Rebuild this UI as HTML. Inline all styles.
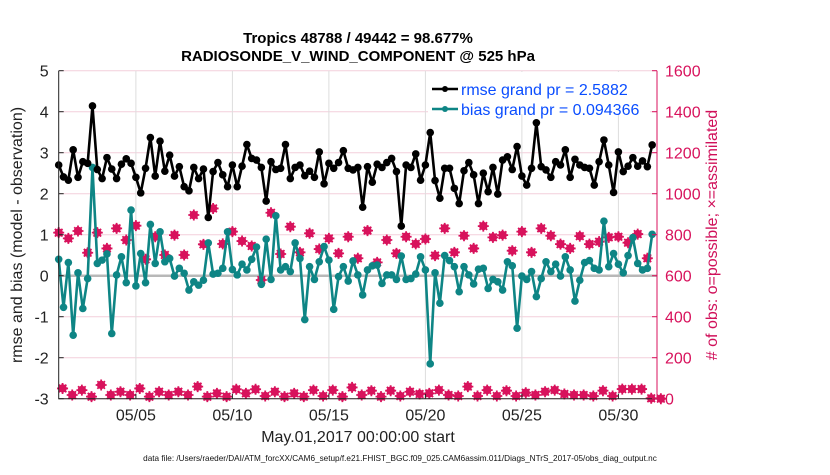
<!DOCTYPE html>
<html><head><meta charset="utf-8"><style>
body{margin:0;background:#fff;width:830px;height:470px;overflow:hidden}
svg{font-family:"Liberation Sans",Arial,sans-serif}
</style></head><body>
<svg id="chart" width="830" height="470">
<text x="358" y="43" text-anchor="middle" font-size="15" font-weight="bold">Tropics 48788 / 49442 = 98.677%</text>
<text x="358" y="61" text-anchor="middle" font-size="15" font-weight="bold">RADIOSONDE_V_WIND_COMPONENT @ 525 hPa</text>
<g id="grid"></g>
<g id="marks"></g>
<g id="axes"></g>
<g id="legend">
<rect x="428" y="72" width="222" height="42" fill="#fff"/>
<line x1="432" y1="89" x2="458" y2="89" stroke="#000" stroke-width="2.5"/>
<circle cx="445" cy="89" r="3" fill="#000"/>
<text x="461" y="95" font-size="16" fill="#0a4dff">rmse grand pr = 2.5882</text>
<line x1="432" y1="109" x2="458" y2="109" stroke="#0e8585" stroke-width="2.5"/>
<circle cx="445" cy="109" r="3" fill="#0e8585"/>
<text x="461" y="115" font-size="16" fill="#0a4dff">bias grand pr = 0.094366</text>
</g>
<text x="358" y="442" text-anchor="middle" font-size="16" fill="#222">May.01,2017 00:00:00 start</text>
<text x="400" y="461" text-anchor="middle" font-size="8.2" fill="#111">data file: /Users/raeder/DAI/ATM_forcXX/CAM6_setup/f.e21.FHIST_BGC.f09_025.CAM6assim.011/Diags_NTrS_2017-05/obs_diag_output.nc</text>
<text transform="translate(22,235) rotate(-90)" text-anchor="middle" font-size="16" fill="#222">rmse and bias (model - observation)</text>
<text transform="translate(717,235) rotate(-90)" text-anchor="middle" font-size="16" fill="#d0105a"># of obs: o=possible; ×=assimilated</text>
</svg>
<script>
const rmse=[2.70,2.41,2.33,3.07,2.40,2.78,2.74,4.14,2.59,2.37,2.88,2.60,2.37,2.72,2.85,2.74,2.40,2.02,2.62,3.37,2.43,3.28,2.55,2.94,2.43,2.66,2.17,2.07,2.64,2.37,2.60,1.42,2.54,2.76,2.46,2.17,2.70,2.17,2.67,3.20,2.86,2.82,2.64,
1.82,2.78,2.59,2.62,3.20,2.37,2.64,2.70,2.44,2.55,2.40,3.02,2.24,2.74,2.62,2.76,3.05,2.62,2.58,2.64,1.67,2.66,2.28,2.72,2.64,2.76,2.86,2.54,1.21,2.70,2.64,2.97,2.33,2.70,3.49,2.32,1.89,2.62,2.62,2.13,1.76,
2.56,2.76,2.46,1.76,2.50,2.05,2.64,1.99,2.82,2.90,2.59,3.15,2.43,2.21,2.62,3.73,2.66,2.58,2.40,2.78,2.70,3.07,2.40,2.84,2.70,2.64,2.62,2.21,2.78,3.31,2.70,2.03,3.02,2.54,2.67,2.88,2.67,2.80,2.66,3.19];
const bias=[0.40,-0.77,0.32,-1.45,0.07,-0.80,-0.07,2.64,0.30,0.38,0.53,-1.41,0.02,0.46,-0.17,1.60,-0.25,0.54,-0.17,1.25,0.30,1.07,0.34,0.42,-0.01,0.18,0.06,-0.35,-0.15,-0.23,-0.11,0.80,0.04,0.06,0.18,1.07,0.15,0.02,0.28,0.14,0.40,0.70,-0.21,
0.89,-0.09,1.46,0.14,0.22,0.10,0.80,0.42,-1.07,0.22,-0.09,0.34,0.71,0.38,-0.82,-0.02,0.22,-0.13,0.36,0.02,-0.47,0.14,0.24,0.26,-0.19,0.02,0.02,-0.09,0.48,-0.09,-0.07,0.04,0.46,0.14,-2.15,0.07,-0.67,0.49,0.37,0.22,-0.39,
0.22,0.02,-0.20,0.16,0.18,-0.31,-0.09,-0.15,-0.35,0.34,0.24,-1.28,-0.01,-0.09,0.10,-0.51,-0.07,0.34,0.10,0.28,-0.01,0.46,0.14,-0.62,-0.11,0.32,0.37,0.18,0.14,1.33,0.22,0.54,0.28,0.07,0.49,0.93,0.30,0.14,0.18,1.01];
const nPossible=[810,782,818,712,810,733,831,774,844,680,790,701,798,701,896,753,928,755,815,769,745,579,
907,706,839,714,807,730,782,709,790,685,820,665,774,709,790,755,779,698,831,714,
795,733,842,787,798,722,815,714,831,795,754,733,793,754,766,787,790,761,803,685];
const nLow=[50,18,42,10,67,18,34,18,50,10,34,18,34,18,59,10,26,10,46,26,46,
13,34,10,26,10,42,13,42,10,55,18,39,10,39,13,34,23,26,42,18,13,
59,13,42,13,39,13,29,18,34,42,23,18,18,13,39,13,47,47,47,2,0];
const yTicksL=[-3,-2,-1,0,1,2,3,4,5];
const yTicksR=[0,200,400,600,800,1000,1200,1400,1600];
const xTickDays=[4,9,14,19,24,29];
const xTickLabels=["05/05","05/10","05/15","05/20","05/25","05/30"];

const X0=58.7,X1=657,Y0=398.7,Y1=70.7;
const xs=t=>X0+t*(X1-X0)/31;
const yL=v=>Y0-(v+3)*(Y0-Y1)/8;
const yR=v=>Y0-v*(Y0-Y1)/1600;
const NS="http://www.w3.org/2000/svg";
function mk(tag,attrs,parent){const e=document.createElementNS(NS,tag);for(const k in attrs)e.setAttribute(k,attrs[k]);parent.appendChild(e);return e;}
const grid=document.getElementById('grid'),marks=document.getElementById('marks'),axes=document.getElementById('axes');
const PINK="#d8125c";

yTicksL.forEach(v=>{const l=mk('line',{x1:X0,x2:X1,y1:yL(v),y2:yL(v),stroke:'#f3cfdc','stroke-width':1},grid);

});
xTickDays.forEach(d=>{const l=mk('line',{x1:xs(d),x2:xs(d),y1:Y1,y2:Y0,stroke:'#dddddd','stroke-width':1},grid);

});
const z=mk('line',{x1:X0,x2:X1,y1:yL(0),y2:yL(0),stroke:'#b8b8b8','stroke-width':2.5},grid);



function star(cx,cy,g){
  const p=mk('path',{d:`M${cx-5.5},${cy}h11M${cx},${cy-5.5}v11M${cx-3.8},${cy-3.8}l7.6,7.6M${cx-3.8},${cy+3.8}l7.6,-7.6`,stroke:PINK,'stroke-width':1.8},g);
  
  
}
nPossible.forEach((v,i)=>{const cx=xs(i*0.5),cy=yR(v);
  const c=mk('circle',{cx:cx,cy:cy,r:4.2,fill:PINK},marks);
  
  
  star(cx,cy,marks);});
nLow.forEach((v,i)=>{const cx=xs(i*0.5+0.2),cy=yR(v);
  const c=mk('circle',{cx:cx,cy:cy,r:4.2,fill:PINK},marks);
  
  
  star(cx,cy,marks);});

function series(arr,color,name){
  const pts=arr.map((v,i)=>[xs(i*0.25),yL(v)]);
  const pl=mk('polyline',{points:pts.map(p=>p.join(',')).join(' '),fill:'none',stroke:color,'stroke-width':2.6,'stroke-linejoin':'round'},marks);
  
  
  pts.forEach(p=>{const c=mk('circle',{cx:p[0],cy:p[1],r:3.8,fill:color},marks);
    
    });
}
series(bias,'#0e8585','bias');
series(rmse,'#000','rmse');

const fr=mk('path',{d:`M${X0},${Y1}V${Y0}H${X1}`,fill:'none',stroke:'#222','stroke-width':1},axes);


const ra=mk('line',{x1:X1,x2:X1,y1:Y1,y2:Y0,stroke:PINK,'stroke-width':1},axes);


yTicksL.forEach(v=>{const y=yL(v);
  mk('line',{x1:X0,x2:X0+5,y1:y,y2:y,stroke:'#222'},axes);
  const t=mk('text',{x:X0-10,y:y+6,'text-anchor':'end','font-size':16,fill:'#222'},axes);t.textContent=v;
  
  });
yTicksR.forEach(v=>{const y=yR(v);
  mk('line',{x1:X1-5,x2:X1,y1:y,y2:y,stroke:PINK},axes);
  const t=mk('text',{x:X1+8,y:y+6,'font-size':16,fill:PINK},axes);t.textContent=v;
  
  });
xTickDays.forEach((d,i)=>{const x=xs(d);
  mk('line',{x1:x,x2:x,y1:Y0,y2:Y0-5,stroke:'#222'},axes);
  const t=mk('text',{x:x,y:Y0+22,'text-anchor':'middle','font-size':16,fill:'#222'},axes);t.textContent=xTickLabels[i];
  
  });
document.getElementById('chart').appendChild(document.getElementById('legend'));
</script>
</body></html>
